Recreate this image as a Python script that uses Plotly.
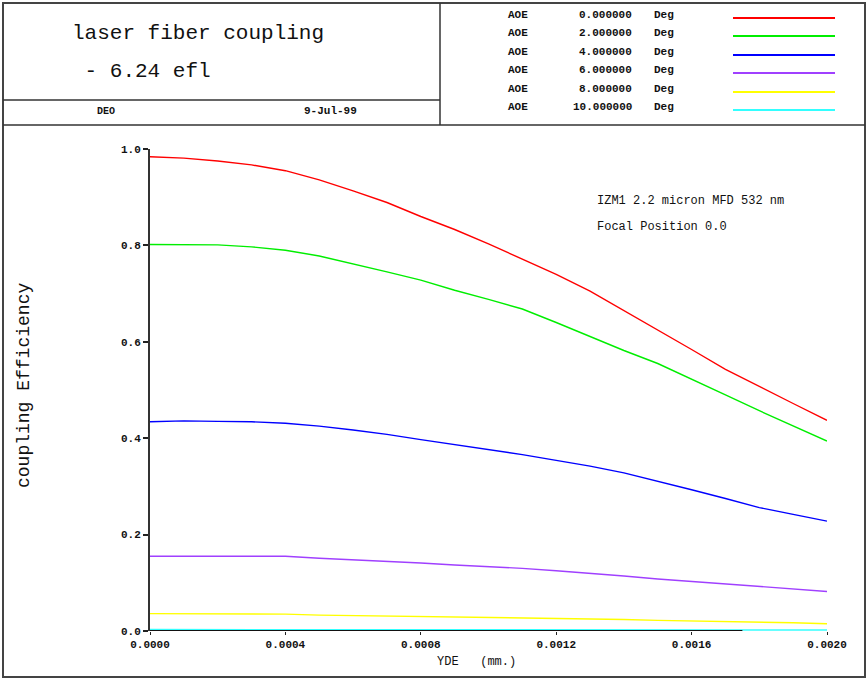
import plotly.graph_objects as go

# ---------------- data ----------------
yde = [i * 0.0001 for i in range(21)]  # YDE (mm.)

angles = [0, 2, 4, 6, 8, 10]  # AOE (Deg)
colors = ["#ff0000", "#00ee00", "#0000ff", "#a040ff", "#ffff00", "#33ffff"]

eff_0 = [0.984, 0.981, 0.975, 0.967, 0.955, 0.936, 0.913, 0.889, 0.860, 0.833, 0.803,
         0.772, 0.740, 0.705, 0.665, 0.625, 0.584, 0.543, 0.507, 0.472, 0.437]
eff_2 = [0.802, 0.801, 0.801, 0.797, 0.790, 0.778, 0.762, 0.745, 0.728, 0.707, 0.688,
         0.668, 0.640, 0.611, 0.582, 0.555, 0.523, 0.490, 0.457, 0.425, 0.394]
eff_4 = [0.434, 0.436, 0.435, 0.434, 0.431, 0.425, 0.417, 0.408, 0.397, 0.387, 0.377,
         0.366, 0.354, 0.342, 0.328, 0.311, 0.293, 0.275, 0.256, 0.242, 0.228]
eff_6 = [0.155, 0.155, 0.155, 0.155, 0.155, 0.151, 0.148, 0.145, 0.141, 0.137, 0.134,
         0.130, 0.125, 0.120, 0.114, 0.108, 0.103, 0.098, 0.092, 0.087, 0.082]
eff_8 = [0.036, 0.036, 0.036, 0.036, 0.035, 0.033, 0.032, 0.032, 0.031, 0.029, 0.028,
         0.027, 0.026, 0.025, 0.024, 0.022, 0.021, 0.020, 0.018, 0.017, 0.015]
eff_10 = [0.003, 0.003, 0.003, 0.003, 0.003, 0.003, 0.003, 0.003, 0.003, 0.003, 0.003,
          0.003, 0.003, 0.003, 0.003, 0.002, 0.002, 0.002, 0.002, 0.002, 0.002]
series = [eff_0, eff_2, eff_4, eff_6, eff_8, eff_10]

x_ticks = [0.0, 0.0004, 0.0008, 0.0012, 0.0016, 0.0020]
y_ticks = [0.0, 0.2, 0.4, 0.6, 0.8, 1.0]
x_axis_line_end = 0.00175

title_lines = ["laser fiber coupling", " - 6.24 efl"]
author = "DEO"
date = "9-Jul-99"
note_lines = ["IZM1 2.2 micron MFD 532 nm", "Focal Position 0.0"]

# ---------------- layout helpers ----------------
W, H = 867, 679
ML, MR, MT, MB = 150, 40, 149, 48
PW, PH = W - ML - MR, H - MT - MB


def px(x):
    return (x - ML) / PW


def py(y):
    return (MT + PH - y) / PH


MONO = "Liberation Mono"

fig = go.Figure()
for a, c, ys in zip(angles, colors, series):
    fig.add_trace(go.Scatter(x=yde, y=ys, mode="lines", name=f"AOE {a:.6f} Deg",
                             line=dict(color=c, width=1.4), showlegend=False))

shapes = []
annotations = []

# frame
shapes.append(dict(type="rect", xref="paper", yref="paper", x0=px(3), x1=px(865), y0=py(677), y1=py(3),
                   line=dict(color="#444444", width=2)))
for (x0, y0, x1, y1) in [(3, 125, 865, 125), (440, 3, 440, 125), (3, 100, 440, 100)]:
    shapes.append(dict(type="line", xref="paper", yref="paper", x0=px(x0), x1=px(x1),
                       y0=py(y0), y1=py(y1), line=dict(color="#333333", width=1.5)))

# x axis line (drawn over the bottom curve)
shapes.append(dict(type="line", xref="x", yref="y", x0=0, x1=x_axis_line_end, y0=0, y1=0,
                   line=dict(color="#111111", width=2), layer="above"))

# header title
for t, ty in zip(title_lines, [34, 72]):
    annotations.append(dict(text=t.replace(" ", "&nbsp;"), x=px(70), y=py(ty), xref="paper", yref="paper",
                            xanchor="left", yanchor="middle", showarrow=False,
                            font=dict(family=MONO, size=21, color="#111111")))
annotations.append(dict(text=f"<b>{author}</b>", x=px(106), y=py(111), xref="paper", yref="paper",
                        xanchor="center", yanchor="middle", showarrow=False,
                        font=dict(family=MONO, size=10, color="#111111")))
annotations.append(dict(text=f"<b>{date}</b>", x=px(330), y=py(111), xref="paper", yref="paper",
                        xanchor="center", yanchor="middle", showarrow=False,
                        font=dict(family=MONO, size=11, color="#111111")))

# header legend
row_y = [15, 33, 52, 70, 89, 107]
for a, c, ry in zip(angles, colors, row_y):
    f = dict(family=MONO, size=11, color="#111111")
    annotations.append(dict(text="<b>AOE</b>", x=px(518), y=py(ry), xref="paper", yref="paper",
                            xanchor="center", yanchor="middle", showarrow=False, font=f))
    annotations.append(dict(text=f"<b>{a:.6f}</b>", x=px(634), y=py(ry), xref="paper", yref="paper",
                            xanchor="right", yanchor="middle", showarrow=False, font=f))
    annotations.append(dict(text="<b>Deg</b>", x=px(652), y=py(ry), xref="paper", yref="paper",
                            xanchor="left", yanchor="middle", showarrow=False, font=f))
    shapes.append(dict(type="line", xref="paper", yref="paper", x0=px(733), x1=px(835),
                       y0=py(ry + 3), y1=py(ry + 3), line=dict(color=c, width=2)))

# notes
for t, ny in zip(note_lines, [201, 227]):
    annotations.append(dict(text=t, x=px(595), y=py(ny), xref="paper", yref="paper",
                            xanchor="left", yanchor="middle", showarrow=False,
                            font=dict(family=MONO, size=12, color="#111111")))

# axis titles
annotations.append(dict(text="coupling Efficiency", x=px(24), y=py(386), xref="paper", yref="paper",
                        xanchor="center", yanchor="middle", showarrow=False, textangle=-90,
                        font=dict(family=MONO, size=18, color="#111111")))
annotations.append(dict(text="YDE&nbsp;&nbsp;&nbsp;(mm.)", x=px(476), y=py(662), xref="paper", yref="paper",
                        xanchor="center", yanchor="middle", showarrow=False,
                        font=dict(family=MONO, size=12, color="#111111")))

fig.update_layout(
    width=W, height=H,
    margin=dict(l=ML, r=MR, t=MT, b=MB),
    paper_bgcolor="white", plot_bgcolor="white",
    shapes=shapes, annotations=annotations,
    xaxis=dict(range=[0, 0.002], tickvals=x_ticks, ticktext=[f"<b>{v:.4f}</b>" for v in x_ticks],
               showgrid=False, zeroline=False, showline=False, ticks="outside", ticklen=3,
               tickcolor="#222222", tickfont=dict(family=MONO, size=11, color="#111111"),
               fixedrange=True),
    yaxis=dict(range=[0, 1.0], tickvals=y_ticks, ticktext=[f"<b>{v:.1f}</b>" for v in y_ticks],
               showgrid=False, zeroline=False, showline=True, linecolor="#333333", linewidth=2,
               ticks="outside", ticklen=5, tickwidth=2, tickcolor="#222222",
               tickfont=dict(family=MONO, size=11, color="#111111"), fixedrange=True),
)

fig.write_html("out.html", config={"displayModeBar": False},
               post_script="document.body.style.margin='0';document.body.style.overflow='hidden';")
